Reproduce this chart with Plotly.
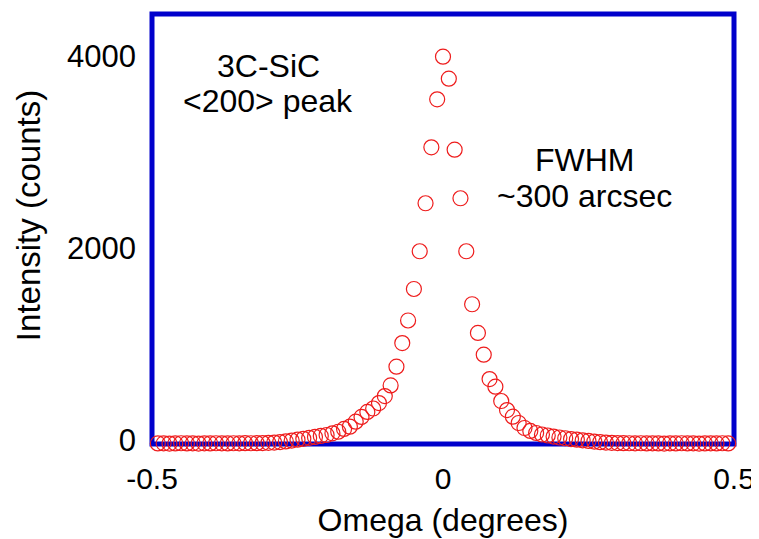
import plotly.graph_objects as go

omega = [-0.49, -0.48, -0.47, -0.46, -0.45, -0.44, -0.43, -0.42, -0.41, -0.40,
         -0.39, -0.38, -0.37, -0.36, -0.35, -0.34, -0.33, -0.32, -0.31, -0.30,
         -0.29, -0.28, -0.27, -0.26, -0.25, -0.24, -0.23, -0.22, -0.21, -0.20,
         -0.19, -0.18, -0.17, -0.16, -0.15, -0.14, -0.13, -0.12, -0.11, -0.10,
         -0.09, -0.08, -0.07, -0.06, -0.05, -0.04, -0.03, -0.02, -0.01, 0.00,
         0.01, 0.02, 0.03, 0.04, 0.05, 0.06, 0.07, 0.08, 0.09, 0.10,
         0.11, 0.12, 0.13, 0.14, 0.15, 0.16, 0.17, 0.18, 0.19, 0.20,
         0.21, 0.22, 0.23, 0.24, 0.25, 0.26, 0.27, 0.28, 0.29, 0.30,
         0.31, 0.32, 0.33, 0.34, 0.35, 0.36, 0.37, 0.38, 0.39, 0.40,
         0.41, 0.42, 0.43, 0.44, 0.45, 0.46, 0.47, 0.48, 0.49]

intensity = [-36, -35, -37, -36, -34, -36, -35, -37, -35, -36,
             -34, -35, -36, -34, -35, -33, -34, -33, -32, -30,
             -27, -22, -15, -6, 3, 12, 22, 32, 42, 52,
             70, 86, 115, 139, 191, 240, 292, 328, 385, 458,
             568, 764, 1010, 1245, 1573, 1966, 2466, 3049, 3549, 3993,
             3764, 3024, 2518, 1966, 1414, 1115, 889, 635, 555, 406,
             312, 243, 177, 125, 94, 73, 57, 47, 36, 26,
             18, 10, 3, -3, -10, -17, -23, -27, -30, -32,
             -33, -34, -35, -34, -36, -35, -36, -37, -35, -36,
             -34, -36, -35, -37, -36, -35, -36, -34, -36]

x_ticks = [-0.5, 0, 0.5]
x_tick_text = ["-0.5", "0", "0.5"]
y_ticks = [0, 2000, 4000]
y_tick_text = ["0", "2000", "4000"]

FONT = "Liberation Sans, Arial, Helvetica, sans-serif"

fig = go.Figure()
fig.add_trace(go.Scatter(
    x=omega, y=intensity, mode="markers", cliponaxis=False,
    marker=dict(symbol="circle-open", size=15, color="#ee1c1c",
                line=dict(width=1.2, color="#ee1c1c")),
    showlegend=False,
))

fig.add_shape(type="rect", xref="paper", yref="paper", x0=0, x1=1, y0=0, y1=1,
              line=dict(color="#0000cc", width=5), layer="below")

ann_font = dict(size=32, family=FONT, color="black")
fig.add_annotation(x=-0.30, y=3896, text="3C-SiC", showarrow=False, font=ann_font)
fig.add_annotation(x=-0.30, y=3531, text="&lt;200&gt; peak", showarrow=False, font=ann_font)
fig.add_annotation(x=0.2435, y=2917, text="FWHM", showarrow=False, font=ann_font)
fig.add_annotation(x=0.2435, y=2542, text="~300 arcsec", showarrow=False, font=ann_font)

# y-axis title (placed as a rotated annotation to match reference position)
fig.add_annotation(xref="paper", yref="paper", x=-0.213, y=0.53,
                   text="Intensity (counts)", textangle=-90, showarrow=False,
                   xanchor="center", yanchor="middle",
                   font=dict(size=33, family=FONT, color="black"))

fig.update_layout(
    width=759, height=539,
    margin=dict(l=144, r=33, t=6, b=103),
    paper_bgcolor="white", plot_bgcolor="white",
    font=dict(family=FONT, size=30, color="black"),
    xaxis=dict(range=[-0.5, 0.5], tickvals=x_ticks, ticktext=x_tick_text,
               showgrid=False, zeroline=False, showline=False, ticks="",
               automargin=False, ticklabelstandoff=14,
               tickfont=dict(size=30, family=FONT),
               title=dict(text="Omega (degrees)", standoff=14,
                          font=dict(size=32, family=FONT))),
    yaxis=dict(range=[-41.7, 4437.5], tickvals=y_ticks, ticktext=y_tick_text,
               showgrid=False, zeroline=False, showline=False, ticks="",
               automargin=False, ticklabelstandoff=15,
               tickfont=dict(size=31, family=FONT)),
)

fig.write_html("out.html")
